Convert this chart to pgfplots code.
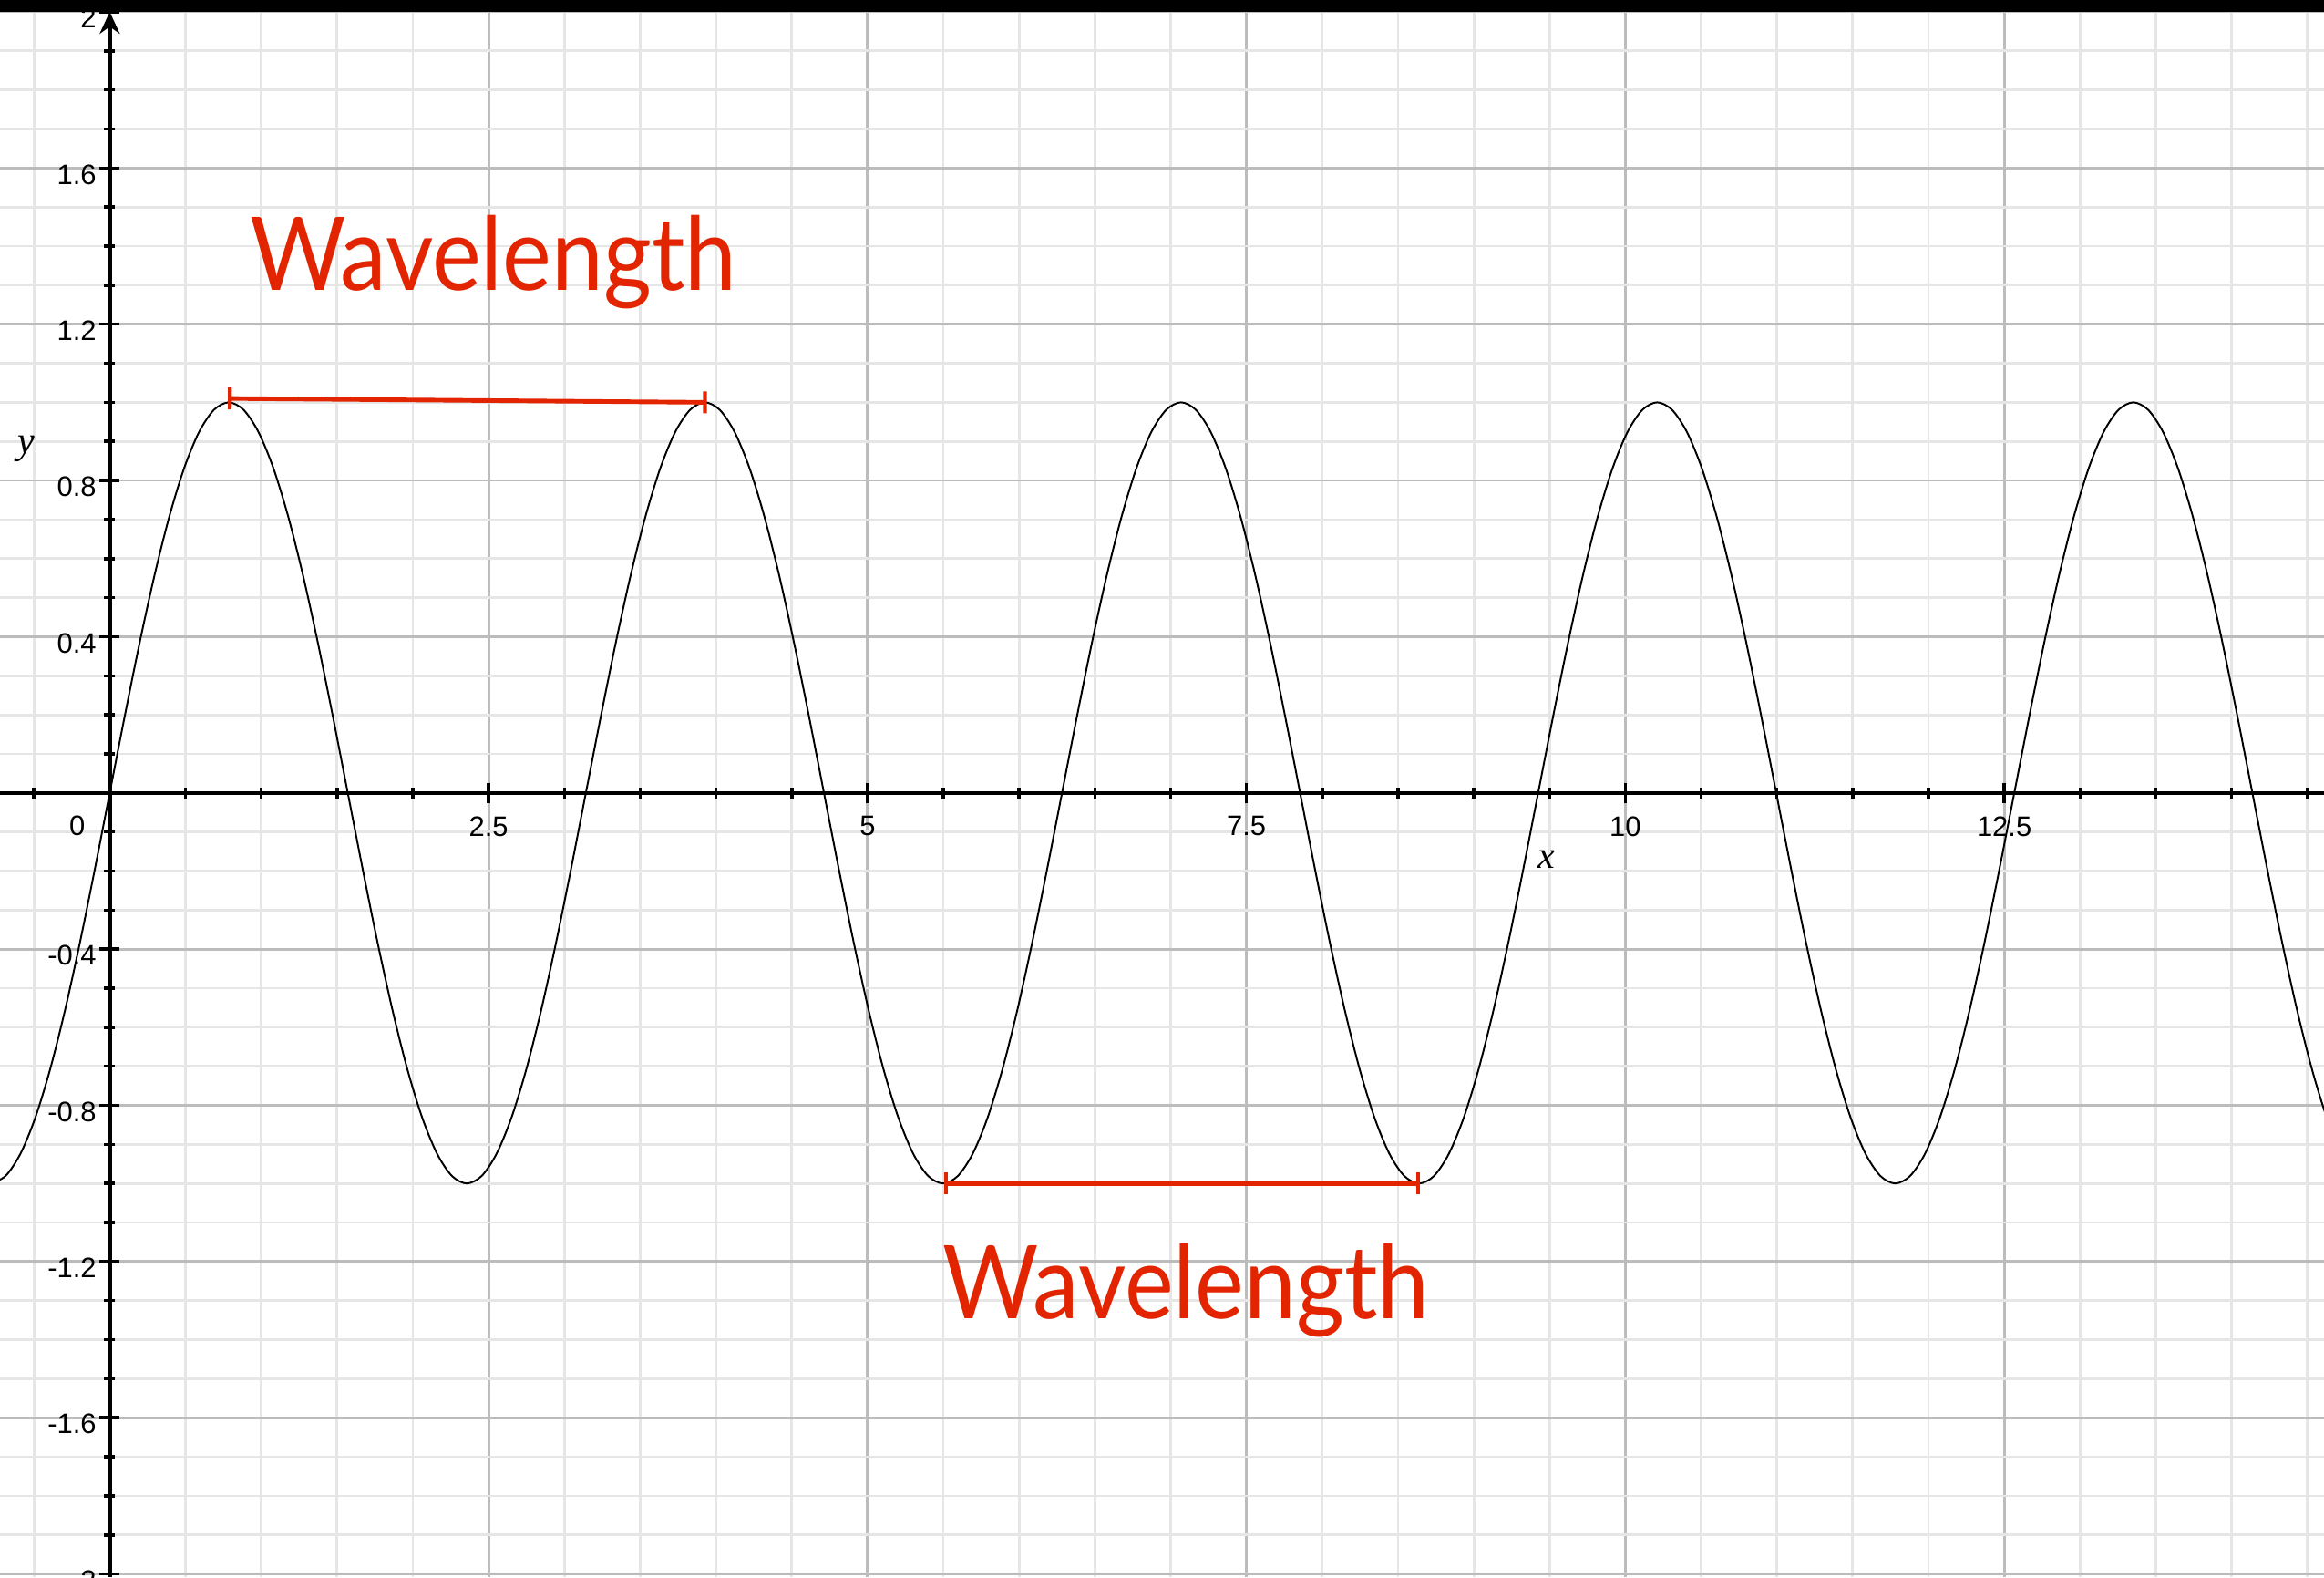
\documentclass[border=0pt]{standalone}
\usepackage{pgfplots}
\pgfplotsset{compat=1.18}
\usepackage{fontspec}
\setmainfont{Liberation Sans}
\newfontfamily\gill[FakeStretch=0.91]{Lato}
\newfontfamily\serifx{Liberation Serif}
\usetikzlibrary{arrows.meta}
\definecolor{wred}{RGB}{226,36,0}
\definecolor{gridminor}{RGB}{230,230,230}
\definecolor{gridmajor}{RGB}{188,188,188}
\begin{document}
\begin{tikzpicture}
\begin{axis}[
  name=ax,
  scale only axis,
  width=25.5cm, height=17.17cm,
  xmin=-0.724, xmax=14.61, ymin=-2.008, ymax=2.0,
  axis lines=middle,
  axis line style={line width=1.2pt, black},
  x axis line style={-},
  y axis line style={-{Stealth[length=2.4mm,width=2.2mm]}},
  xtick={2.5,5,7.5,10,12.5},
  xticklabels={2.5,5,7.5,10,12.5},
  minor xtick={-0.5,0.5,1,1.5,2,3,3.5,4,4.5,5.5,6,6.5,7,8,8.5,9,9.5,10.5,11,11.5,12,13,13.5,14,14.5},
  ytick={-2,-1.6,-1.2,-0.8,-0.4,0.4,0.8,1.2,1.6,2},
  yticklabels={-2,-1.6,-1.2,-0.8,-0.4,0.4,0.8,1.2,1.6,2},
  minor ytick={-1.9,-1.8,-1.7,-1.5,-1.4,-1.3,-1.1,-1.0,-0.9,-0.7,-0.6,-0.5,-0.3,-0.2,-0.1,0.1,0.2,0.3,0.5,0.6,0.7,0.9,1.0,1.1,1.3,1.4,1.5,1.7,1.8,1.9},
  grid=both,
  major grid style={gridmajor, line width=0.8pt},
  minor grid style={gridminor, line width=0.8pt},
  tick align=center,
  major tick length=2.2mm,
  minor tick length=1.2mm,
  every tick/.style={black, line width=1pt},
  tick label style={font=\fontsize{8.8}{10}\selectfont},
  xticklabel style={anchor=north, inner sep=0pt, yshift=-1.4mm},
  yticklabel style={anchor=east, inner sep=0pt, xshift=-0.3mm, yshift=-0.7mm},
]
\addplot[black, line width=0.55pt, smooth] table {
x y
-0.7854 -1
-0.6872 -0.98079
-0.5890 -0.92388
-0.4909 -0.83147
-0.3927 -0.70711
-0.2945 -0.55557
-0.1963 -0.38268
-0.0982 -0.19509
0 0
0.0982 0.19509
0.1963 0.38268
0.2945 0.55557
0.3927 0.70711
0.4909 0.83147
0.5890 0.92388
0.6872 0.98079
0.7854 1
0.8836 0.98079
0.9817 0.92388
1.0799 0.83147
1.1781 0.70711
1.2763 0.55557
1.3744 0.38268
1.4726 0.19509
1.5708 0
1.6690 -0.19509
1.7671 -0.38268
1.8653 -0.55557
1.9635 -0.70711
2.0617 -0.83147
2.1598 -0.92388
2.2580 -0.98079
2.3562 -1
2.4544 -0.98079
2.5525 -0.92388
2.6507 -0.83147
2.7489 -0.70711
2.8471 -0.55557
2.9452 -0.38268
3.0434 -0.19509
3.1416 0
3.2398 0.19509
3.3379 0.38268
3.4361 0.55557
3.5343 0.70711
3.6325 0.83147
3.7306 0.92388
3.8288 0.98079
3.9270 1
4.0252 0.98079
4.1233 0.92388
4.2215 0.83147
4.3197 0.70711
4.4179 0.55557
4.5160 0.38268
4.6142 0.19509
4.7124 0
4.8106 -0.19509
4.9087 -0.38268
5.0069 -0.55557
5.1051 -0.70711
5.2033 -0.83147
5.3014 -0.92388
5.3996 -0.98079
5.4978 -1
5.5960 -0.98079
5.6941 -0.92388
5.7923 -0.83147
5.8905 -0.70711
5.9887 -0.55557
6.0868 -0.38268
6.1850 -0.19509
6.2832 0
6.3814 0.19509
6.4795 0.38268
6.5777 0.55557
6.6759 0.70711
6.7741 0.83147
6.8722 0.92388
6.9704 0.98079
7.0686 1
7.1668 0.98079
7.2649 0.92388
7.3631 0.83147
7.4613 0.70711
7.5595 0.55557
7.6576 0.38268
7.7558 0.19509
7.8540 0
7.9522 -0.19509
8.0503 -0.38268
8.1485 -0.55557
8.2467 -0.70711
8.3449 -0.83147
8.4430 -0.92388
8.5412 -0.98079
8.6394 -1
8.7376 -0.98079
8.8357 -0.92388
8.9339 -0.83147
9.0321 -0.70711
9.1303 -0.55557
9.2284 -0.38268
9.3266 -0.19509
9.4248 0
9.5230 0.19509
9.6211 0.38268
9.7193 0.55557
9.8175 0.70711
9.9157 0.83147
10.0138 0.92388
10.1120 0.98079
10.2102 1
10.3084 0.98079
10.4065 0.92388
10.5047 0.83147
10.6029 0.70711
10.7011 0.55557
10.7992 0.38268
10.8974 0.19509
10.9956 0
11.0938 -0.19509
11.1919 -0.38268
11.2901 -0.55557
11.3883 -0.70711
11.4865 -0.83147
11.5846 -0.92388
11.6828 -0.98079
11.7810 -1
11.8792 -0.98079
11.9773 -0.92388
12.0755 -0.83147
12.1737 -0.70711
12.2719 -0.55557
12.3700 -0.38268
12.4682 -0.19509
12.5664 0
12.6646 0.19509
12.7627 0.38268
12.8609 0.55557
12.9591 0.70711
13.0573 0.83147
13.1554 0.92388
13.2536 0.98079
13.3518 1
13.4500 0.98079
13.5481 0.92388
13.6463 0.83147
13.7445 0.70711
13.8427 0.55557
13.9408 0.38268
14.0390 0.19509
14.1372 0
14.2354 -0.19509
14.3335 -0.38268
14.4317 -0.55557
14.5299 -0.70711
14.6281 -0.83147
14.7262 -0.92388
};
\addplot[wred, line width=1.4pt, arrows={Bar[width=2.4mm,line width=1.2pt]-Bar[width=2.4mm,line width=1.2pt]}] coordinates {(0.78,1.01) (3.94,1.0)};
\addplot[wred, line width=1.4pt, arrows={Bar[width=2.4mm,line width=1.2pt]-Bar[width=2.4mm,line width=1.2pt]}] coordinates {(5.505,-1.0) (8.645,-1.0)};
\node[anchor=base west, inner sep=0pt, text=wred, font=\gill\fontsize{31.8}{36}\selectfont] at (axis cs:0.92,1.287) {Wavelength};
\node[anchor=base west, inner sep=0pt, text=wred, font=\gill\fontsize{31.8}{36}\selectfont] at (axis cs:5.49,-1.347) {Wavelength};
\node[inner sep=0pt, font=\fontsize{8.8}{10}\selectfont] at (axis cs:-0.215,-0.083) {0};
\node[inner sep=0pt, font=\serifx\itshape\fontsize{12}{14}\selectfont] at (axis cs:9.48,-0.171) {x};
\node[inner sep=0pt, font=\serifx\itshape\fontsize{12}{14}\selectfont] at (axis cs:-0.548,0.88) {y};
\end{axis}
\fill[black] (ax.north west) rectangle ([yshift=1.3mm]ax.north east);
\pgfresetboundingbox
\useasboundingbox (ax.south west) rectangle ([yshift=1.3mm]ax.north east);
\end{tikzpicture}
\end{document}
